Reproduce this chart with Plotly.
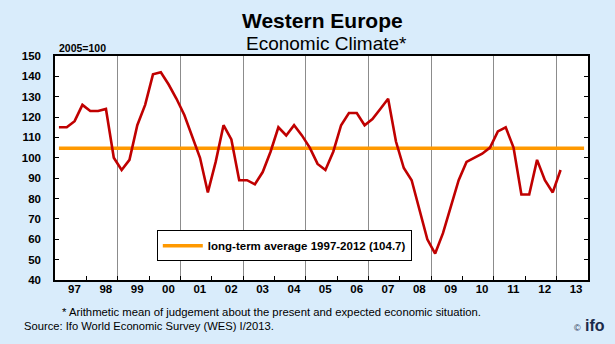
import plotly.graph_objects as go

# Quarterly data 1997Q1 .. 2013Q1
years = list(range(1997, 2014))
quarters = [(y, q) for y in range(1997, 2014) for q in range(1, 5)][:65]
climate = [
    115, 115, 118, 126,   # 1997
    123, 123, 124, 100,   # 1998
    94, 99, 116, 126,     # 1999
    141, 142, 136, 129,   # 2000
    121, 110, 100, 83,    # 2001
    98, 116, 109, 89,     # 2002
    89, 87, 93, 103,      # 2003
    115, 111, 116, 111,   # 2004
    105, 97, 94, 103,     # 2005
    116, 122, 122, 116,   # 2006
    119, 124, 129, 108,   # 2007
    95, 89, 74, 60,       # 2008
    53, 63, 76, 89,       # 2009
    98, 100, 102, 105,    # 2010
    113, 115, 105, 82,    # 2011
    82, 99, 89, 83,       # 2012
    94,                   # 2013
]
long_term_avg = 104.7
year_labels = [f"{y % 100:02d}" for y in years]

x_vals = [y + (q - 1) * 0.25 + 0.125 for (y, q) in quarters]
avg_x = [years[0] + 0.125, years[-1] + 0.875]

FONT = "Liberation Sans, Arial, sans-serif"
RED = "#C00000"
ORANGE = "#FF9900"

fig = go.Figure()
fig.add_trace(go.Scatter(
    x=avg_x, y=[long_term_avg, long_term_avg], mode="lines",
    line=dict(color=ORANGE, width=3.5),
    name="long-term average 1997-2012 (104.7)", showlegend=True,
))
fig.add_trace(go.Scatter(
    x=x_vals, y=climate, mode="lines",
    line=dict(color=RED, width=2.6), showlegend=False, name="Economic Climate",
))
# invisible trace to activate label axis
fig.add_trace(go.Scatter(
    x=[y + 0.62 for y in years], y=[long_term_avg] * len(years), xaxis="x2",
    mode="lines", line=dict(width=0), opacity=0, showlegend=False, hoverinfo="skip",
))

fig.update_layout(
    width=615, height=344,
    margin=dict(l=55, r=27, t=56, b=64),
    paper_bgcolor="#D9ECFB",
    plot_bgcolor="#FFFFFF",
    font=dict(family=FONT, color="#000000"),
    xaxis=dict(
        range=[1997, 2014], tickmode="linear", tick0=1999, dtick=2,
        showgrid=True, gridcolor="#8C8C8C", gridwidth=1,
        ticks="inside", ticklen=4, tickcolor="#000000",
        showticklabels=False, showline=True, linecolor="#000000", linewidth=1.5,
        mirror=True, zeroline=False,
        minor=dict(tick0=1997, dtick=1, ticks="inside", ticklen=4,
                   tickcolor="#000000", showgrid=False),
    ),
    xaxis2=dict(
        range=[1997, 2014], overlaying="x", side="bottom", anchor="y",
        tickmode="array", tickvals=[y + 0.62 for y in years], ticktext=year_labels,
        ticks="", showgrid=False, showline=False, zeroline=False,
        tickfont=dict(family=FONT, size=11.5, weight="bold", color="#000000"),
    ),
    yaxis=dict(
        range=[40, 150], tickmode="linear", tick0=40, dtick=10,
        showgrid=False, zeroline=False,
        ticks="inside", ticklen=4, tickcolor="#000000",
        showline=True, linecolor="#000000", linewidth=1.5, mirror="ticks",
        ticklabelstandoff=10,
        tickfont=dict(family=FONT, size=11.5, weight="bold", color="#000000"),
    ),
    legend=dict(
        x=0.191, y=0.222, xanchor="left", yanchor="top",
        bgcolor="#FFFFFF", bordercolor="#000000", borderwidth=1,
        font=dict(family=FONT, size=11.5, weight="bold", color="#000000"),
        itemwidth=40, tracegroupgap=0,
    ),
    annotations=[
        dict(text="<b>Western Europe</b>", x=0.501, y=1.159, xref="paper", yref="paper",
             showarrow=False, font=dict(family=FONT, size=21, color="#000000"),
             xanchor="center", yanchor="middle"),
        dict(text="Economic Climate*", x=0.51, y=1.057, xref="paper", yref="paper",
             showarrow=False, font=dict(family=FONT, size=19, color="#000000"),
             xanchor="center", yanchor="middle"),
        dict(text="<b>2005=100</b>", x=0.003, y=1.0, xref="paper", yref="paper",
             showarrow=False, font=dict(family=FONT, size=10.5, color="#000000"),
             xanchor="left", yanchor="bottom"),
        dict(text="* Arithmetic mean of judgement about the present and expected economic situation.",
             x=0.009, y=-0.143, xref="paper", yref="paper", showarrow=False,
             font=dict(family=FONT, size=11.3, color="#000000"),
             xanchor="left", yanchor="middle"),
        dict(text="Source: Ifo World Economic Survey (WES) I/2013.",
             x=-0.062, y=-0.207, xref="paper", yref="paper", showarrow=False,
             font=dict(family=FONT, size=11.2, color="#000000"),
             xanchor="left", yanchor="middle"),
        dict(text="<span style='font-size:9px'>©</span> <b>ifo</b>",
             x=1.035, y=-0.205, xref="paper", yref="paper", showarrow=False,
             font=dict(family=FONT, size=16, color="#1B2A4A"),
             xanchor="right", yanchor="middle"),
    ],
)

fig.write_html("out.html")
